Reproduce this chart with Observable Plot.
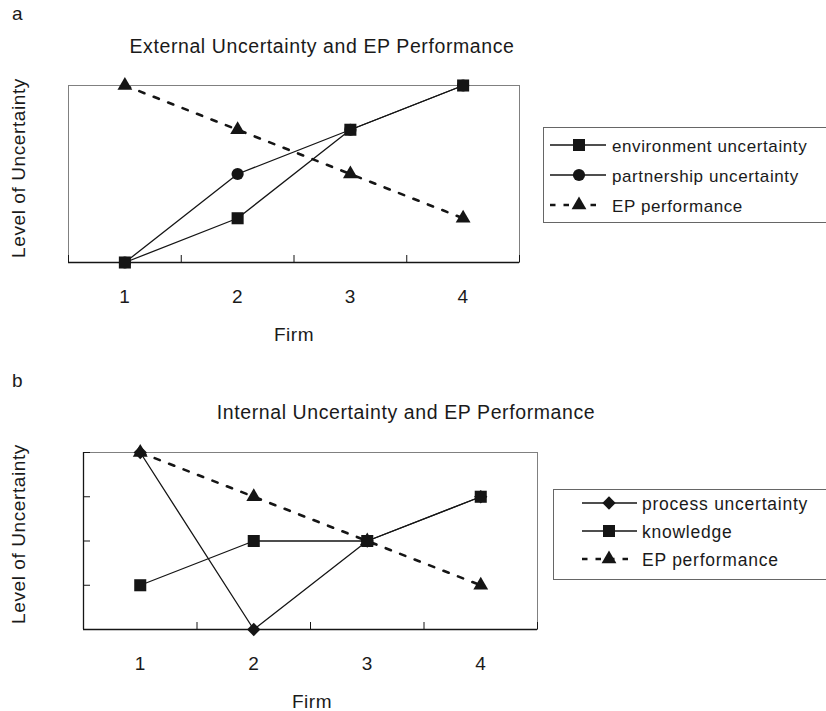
<!DOCTYPE html>
<html>
<head>
<meta charset="utf-8">
<script src="https://cdn.jsdelivr.net/npm/d3@7"></script>
<script src="https://cdn.jsdelivr.net/npm/@observablehq/plot@0.6"></script>
<style>
  html, body { margin: 0; padding: 0; background: #fff; }
  #root { position: relative; width: 826px; height: 711px; overflow: hidden; background: #fff; }
  #root > svg, #root > div { position: absolute; left: 0; }
</style>
</head>
<body>
<div id="root"></div>
<script>
// ---------------- data ----------------
const firms = [1, 2, 3, 4];
const tickBounds = [0.5, 1.5, 2.5, 3.5, 4.5];

// panel a: External Uncertainty and EP Performance
const envUncertainty = [0, 1, 3, 4];
const partnershipUncertainty = [0, 2, 3, 4];
const epPerformanceA = [4, 3, 2, 1];

// panel b: Internal Uncertainty and EP Performance
const processUncertainty = [4, 0, 2, 3];
const knowledge = [1, 2, 2, 3];
const epPerformanceB = [4, 3, 2, 1];
const yTicksB = [0, 1, 2, 3, 4];

const titleA = "External Uncertainty and EP Performance";
const titleB = "Internal Uncertainty and EP Performance";
const yLabel = "Level of Uncertainty";
const xLabel = "Firm";

// ---------------- style ----------------
const FONT = '"Liberation Sans", Arial, Helvetica, sans-serif';
const INK = "#151515";
const TXT = "#1a1a1a";
const GRID = "#808080";

const rowsA = firms.map((f, i) => ({firm: f, env: envUncertainty[i], part: partnershipUncertainty[i], ep: epPerformanceA[i]}));
const rowsB = firms.map((f, i) => ({firm: f, proc: processUncertainty[i], know: knowledge[i], ep: epPerformanceB[i]}));

const DASH = "5.5,10";
const seriesA = [
  {key: "ep", name: "EP performance", symbol: "triangle", r: 5.5, dash: DASH, sw: 2.6},
  {key: "part", name: "partnership uncertainty", symbol: "circle", r: 6.1, dash: null, sw: 1.3},
  {key: "env", name: "environment uncertainty", symbol: "square", r: 6.8, dash: null, sw: 1.3}
];
const legendOrderA = ["env", "part", "ep"];

const seriesB = [
  {key: "ep", name: "EP performance", symbol: "triangle", r: 5.5, dash: DASH, sw: 2.6},
  {key: "proc", name: "process uncertainty", symbol: "square", rotate: 45, r: 5.3, dash: null, sw: 1.3},
  {key: "know", name: "knowledge", symbol: "square", r: 6.8, dash: null, sw: 1.3}
];
const legendOrderB = ["proc", "know", "ep"];

function seriesMarks(rows, series) {
  const m = [];
  for (const s of series) {
    m.push(Plot.line(rows, {x: "firm", y: s.key, stroke: INK, strokeWidth: s.sw, strokeDasharray: s.dash || undefined}));
  }
  for (const s of series) {
    m.push(Plot.dot(rows, {x: "firm", y: s.key, symbol: s.symbol, r: s.r, fill: INK, stroke: "none", rotate: s.rotate || 0}));
  }
  return m;
}

function panel({rows, series, height, mt, mb, ml, mr, yTicks, blackLeft}) {
  const marks = [
    Plot.frame({stroke: GRID, strokeWidth: 1}),
    blackLeft ? Plot.ruleX([0.5], {stroke: INK, strokeWidth: 1.3}) : null,
    Plot.ruleY([0], {stroke: INK, strokeWidth: 1.4}),
    Plot.axisX(firms, {tickSize: 0, tickPadding: 27, tickFormat: d => String(d), label: null, fill: TXT}),
    Plot.axisX(tickBounds, {tickSize: -7, tickFormat: () => "", label: null, stroke: INK}),
    yTicks ? Plot.axisY(yTicks, {tickSize: -7, tickFormat: () => "", label: null, stroke: INK}) : null,
    ...seriesMarks(rows, series)
  ].filter(Boolean);
  return Plot.plot({
    width: 826, height,
    marginTop: mt, marginBottom: mb, marginLeft: ml, marginRight: mr,
    x: {domain: [0.5, 4.5]},
    y: {domain: [0, 4], axis: yTicks ? undefined : null},
    style: {fontFamily: FONT, fontSize: "19px", letterSpacing: "0.55px", background: "transparent", overflow: "visible", color: TXT},
    marks
  });
}

const root = document.getElementById("root");

const plotA = panel({rows: rowsA, series: seriesA, height: 355, mt: 85, mb: 93, ml: 68, mr: 307, yTicks: null, blackLeft: false});
plotA.style.top = "0px";
root.appendChild(plotA);

const plotB = panel({rows: rowsB, series: seriesB, height: 356, mt: 97, mb: 82, ml: 83, mr: 289, yTicks: yTicksB, blackLeft: true});
plotB.style.top = "355px";
root.appendChild(plotB);

// ---------------- overlay text & legends ----------------
const ov = d3.select(root).append("svg")
  .attr("width", 826).attr("height", 711)
  .style("top", "0px").style("pointer-events", "none")
  .style("font-family", FONT).attr("fill", TXT);

function txt(x, y, s, size, anchor = "start", ls = 0.55, rot = 0) {
  const t = ov.append("text").text(s)
    .attr("font-size", size + "px").style("letter-spacing", ls + "px")
    .attr("text-anchor", anchor);
  if (rot) t.attr("transform", `translate(${x},${y}) rotate(${rot})`);
  else t.attr("x", x).attr("y", y);
  return t;
}

// panel a texts
txt(12, 20, "a", 19, "start", 0);
txt(322, 53, titleA, 19.5, "middle", 0.6);
txt(25, 168, yLabel, 19, "middle", 0.6, -90);
txt(294, 341, xLabel, 19, "middle");

// panel b texts
txt(12, 387, "b", 19, "start", 0);
txt(406, 419, titleB, 19.5, "middle", 0.6);
txt(25, 534, yLabel, 19, "middle", 0.6, -90);
txt(312, 708, xLabel, 19, "middle");

function legend(x0, y0, h, rowYs, lineX1, lineX2, markX, textX, order, series, fsize, ls) {
  ov.append("rect").attr("x", x0 + 0.5).attr("y", y0 + 0.5).attr("width", 400).attr("height", h)
    .attr("fill", "none").attr("stroke", "#666").attr("stroke-width", 1);
  order.forEach((k, i) => {
    const s = series.find(d => d.key === k);
    const y = rowYs[i];
    const x2 = s.dash ? lineX2 - 6 : lineX2;
    ov.append("line").attr("x1", lineX1).attr("x2", x2).attr("y1", y).attr("y2", y)
      .attr("stroke", INK).attr("stroke-width", s.dash ? 2.4 : s.sw).attr("stroke-dasharray", s.dash ? "5.5,8" : null);
    const sym = {square: d3.symbolSquare, circle: d3.symbolCircle, triangle: d3.symbolTriangle}[s.symbol];
    ov.append("path").attr("d", d3.symbol(sym, s.r * s.r * Math.PI)())
      .attr("transform", `translate(${markX},${y}) rotate(${s.rotate || 0})`).attr("fill", INK);
    txt(textX, y + 6.5, s.name, fsize, "start", ls);
  });
}

legend(543, 127, 95, [145, 175, 205], 550, 606, 579, 612, legendOrderA, seriesA, 17, 0.6);
legend(553, 489, 90, [503, 531, 559], 582, 637, 609, 642, legendOrderB, seriesB, 17.5, 0.75);
</script>
</body>
</html>
